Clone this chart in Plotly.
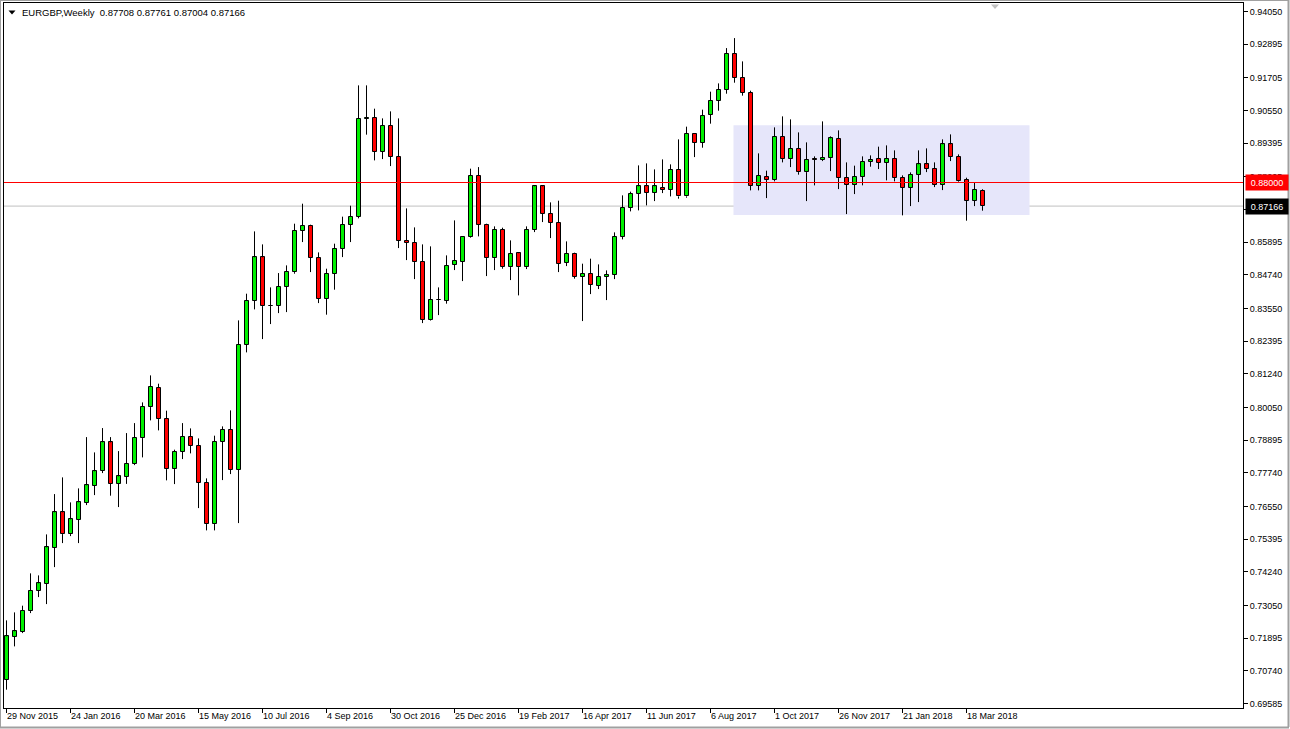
import plotly.graph_objects as go

# ---------------- data (EURGBP weekly) ----------------
week_labels = ["29 Nov 2015", "24 Jan 2016", "20 Mar 2016", "15 May 2016", "10 Jul 2016",
               "4 Sep 2016", "30 Oct 2016", "25 Dec 2016", "19 Feb 2017", "16 Apr 2017",
               "11 Jun 2017", "6 Aug 2017", "1 Oct 2017", "26 Nov 2017", "21 Jan 2018",
               "18 Mar 2018"]
label_step = 8  # one date label every 8 weekly bars

opens = [0.70422, 0.71943, 0.72105, 0.72848, 0.73569, 0.73816, 0.75089, 0.76337, 0.75570, 0.76079,
         0.76680, 0.77281, 0.77811, 0.78812, 0.77352, 0.77599, 0.78045, 0.78964, 0.80060, 0.80746,
         0.79650, 0.77868, 0.78483, 0.79014, 0.78695, 0.77387, 0.75924, 0.78837, 0.79261, 0.77847,
         0.82266, 0.83822, 0.85353, 0.83631, 0.83631, 0.84317, 0.84833, 0.86297, 0.86473, 0.85342,
         0.83893, 0.84776, 0.85660, 0.86509, 0.86792, 0.90256, 0.90292, 0.89090, 0.90009, 0.88913,
         0.85943, 0.85872, 0.85201, 0.83150, 0.83857, 0.83822, 0.85095, 0.85201, 0.86085, 0.88241,
         0.86509, 0.85328, 0.86332, 0.85010, 0.85500, 0.85010, 0.86332, 0.87863, 0.86898, 0.86580,
         0.85165, 0.85484, 0.84670, 0.84776, 0.84352, 0.84670, 0.84741, 0.86085, 0.87110, 0.87605,
         0.87863, 0.87640, 0.87817, 0.87746, 0.88453, 0.87509, 0.89726, 0.89408, 0.90398, 0.90893,
         0.91282, 0.92554, 0.91706, 0.91176, 0.87888, 0.88206, 0.88086, 0.89620, 0.88828, 0.89196,
         0.88368, 0.88807, 0.88793, 0.88863, 0.89549, 0.88170, 0.87923, 0.88206, 0.88736, 0.88842,
         0.88701, 0.88842, 0.88170, 0.87817, 0.88277, 0.88641, 0.88489, 0.87923, 0.89348, 0.88913,
         0.88100, 0.87357, 0.87708]
highs = [0.72519, 0.72802, 0.73039, 0.74181, 0.74110, 0.75559, 0.76984, 0.77575, 0.76691, 0.77186,
         0.78999, 0.78458, 0.79318, 0.78999, 0.78504, 0.79141, 0.79494, 0.80226, 0.81181, 0.80887,
         0.79933, 0.78554, 0.79494, 0.79307, 0.78953, 0.77539, 0.79049, 0.79378, 0.79943, 0.83125,
         0.84069, 0.86272, 0.85812, 0.84292, 0.84798, 0.85070, 0.86544, 0.87251, 0.86509, 0.85529,
         0.84953, 0.85837, 0.86792, 0.87180, 0.91434, 0.91434, 0.90610, 0.90267, 0.90515, 0.90267,
         0.87085, 0.86413, 0.85812, 0.85742, 0.84292, 0.85423, 0.86661, 0.86085, 0.88489, 0.88545,
         0.86544, 0.86449, 0.86403, 0.85954, 0.85519, 0.86449, 0.87898, 0.87898, 0.87297, 0.87357,
         0.85918, 0.85519, 0.85130, 0.85307, 0.85105, 0.84893, 0.86237, 0.87545, 0.87676, 0.88605,
         0.88676, 0.88464, 0.88817, 0.88641, 0.89525, 0.89974, 0.89726, 0.90575, 0.91211, 0.91504,
         0.92752, 0.93106, 0.92282, 0.91246, 0.89030, 0.88418, 0.89949, 0.90338, 0.90232, 0.89772,
         0.89419, 0.88924, 0.90161, 0.89631, 0.89843, 0.88711, 0.88595, 0.88924, 0.88959, 0.89267,
         0.89312, 0.89136, 0.88252, 0.88358, 0.89136, 0.89206, 0.88711, 0.89525, 0.89701, 0.88994,
         0.88170, 0.88015, 0.87761]
lows = [0.70069, 0.71600, 0.72070, 0.72777, 0.73343, 0.73095, 0.74403, 0.75252, 0.75499, 0.75252,
        0.76595, 0.76949, 0.77727, 0.76928, 0.76525, 0.77345, 0.78009, 0.78282, 0.79590, 0.79236,
        0.77469, 0.77338, 0.78222, 0.78423, 0.76489, 0.75701, 0.75701, 0.77479, 0.77691, 0.75959,
        0.81994, 0.83514, 0.82464, 0.82995, 0.83383, 0.83419, 0.84776, 0.85894, 0.84833, 0.83737,
        0.83327, 0.84211, 0.85363, 0.85894, 0.86732, 0.89691, 0.88782, 0.88828, 0.88581, 0.85682,
        0.85257, 0.84585, 0.83030, 0.83120, 0.83313, 0.83716, 0.84904, 0.84515, 0.86050, 0.86095,
        0.84692, 0.84904, 0.84953, 0.84550, 0.84009, 0.84939, 0.86247, 0.86601, 0.86035, 0.84833,
        0.85045, 0.84600, 0.83101, 0.84055, 0.84232, 0.83843, 0.84585, 0.85989, 0.86979, 0.87014,
        0.87191, 0.87343, 0.87626, 0.87509, 0.87428, 0.87463, 0.88899, 0.89231, 0.90080, 0.90539,
        0.91140, 0.91529, 0.91070, 0.87722, 0.87722, 0.87449, 0.88040, 0.88711, 0.88545, 0.88277,
        0.87343, 0.87898, 0.88757, 0.88404, 0.87767, 0.86884, 0.87591, 0.87900, 0.88559, 0.88475,
        0.88075, 0.88040, 0.86838, 0.87166, 0.87308, 0.88368, 0.87838, 0.87732, 0.88757, 0.88029,
        0.86650, 0.87166, 0.87004]
closes = [0.71953, 0.72130, 0.72862, 0.73569, 0.73827, 0.75100, 0.76337, 0.75570, 0.76090, 0.76691,
          0.77292, 0.77787, 0.78812, 0.77352, 0.77610, 0.78062, 0.78978, 0.80074, 0.80781, 0.79636,
          0.77868, 0.78483, 0.79014, 0.78695, 0.77387, 0.75924, 0.78837, 0.79261, 0.77847, 0.82266,
          0.83822, 0.85353, 0.83631, 0.83645, 0.84317, 0.84847, 0.86297, 0.86473, 0.85342, 0.83893,
          0.84776, 0.85660, 0.86509, 0.86792, 0.90256, 0.90285, 0.89090, 0.90009, 0.88913, 0.85943,
          0.85872, 0.85187, 0.83150, 0.83857, 0.83843, 0.85059, 0.85236, 0.86085, 0.88241, 0.86509,
          0.85328, 0.86332, 0.85010, 0.85484, 0.85010, 0.86332, 0.87863, 0.86898, 0.86580, 0.85130,
          0.85484, 0.84670, 0.84776, 0.84387, 0.84670, 0.84741, 0.86085, 0.87110, 0.87605, 0.87863,
          0.87640, 0.87863, 0.87746, 0.88453, 0.87509, 0.89726, 0.89408, 0.90363, 0.90893, 0.91282,
          0.92554, 0.91706, 0.91176, 0.87888, 0.88241, 0.88086, 0.89620, 0.88828, 0.89196, 0.88368,
          0.88807, 0.88800, 0.88878, 0.89560, 0.88156, 0.87923, 0.88206, 0.88736, 0.88807, 0.88701,
          0.88842, 0.88170, 0.87817, 0.88277, 0.88641, 0.88489, 0.87923, 0.89348, 0.88913, 0.88064,
          0.87357, 0.87746, 0.87166]

price_ticks = [0.94050, 0.92895, 0.91705, 0.90550, 0.89395, 0.88205, 0.87050, 0.85895, 0.84740,
               0.83550, 0.82395, 0.81240, 0.80050, 0.78895, 0.77740, 0.76550, 0.75395, 0.74240,
               0.73050, 0.71895, 0.70740, 0.69585]

level_price = 0.88000            # red horizontal line
zone_start, zone_end = 90.875, 127.875   # rectangle, in bar units
zone_low, zone_high = 0.86848, 0.90020   # rectangle, in price

symbol_text = "EURGBP,Weekly"

# ---------------- styling / geometry ----------------
FIG_W, FIG_H = 1290, 729
PL, PR, PT, PB = 4, 1243, 3, 708
W, H = PR - PL, PB - PT
BAR_PX = 8.0
X0 = -0.3125
X1 = X0 + W / BAR_PX
PX_PER_PRICE = 2828.5
Y1 = 0.94050 + (11.38 - PT) / PX_PER_PRICE
Y0 = Y1 - H / PX_PER_PRICE

BULL = "#00F000"
BEAR = "#FF0000"
FONT = "Liberation Sans"


def px2x(px):
    return (px - PL) / W


def py2y(py):
    return (PB - py) / H


n = len(opens)
idx = list(range(n))
body_top = [max(o, c) for o, c in zip(opens, closes)]
body_bot = [min(o, c) for o, c in zip(opens, closes)]
body_h = [max(t - b, 0.0002) for t, b in zip(body_top, body_bot)]
colors = [BULL if c >= o else BEAR for o, c in zip(opens, closes)]

# wicks: upper (body top -> high) and lower (low -> body bottom), so bodies stay clean
wick_x, wick_y = [], []
for i in idx:
    if highs[i] > body_top[i]:
        wick_x += [i, i, None]
        wick_y += [body_top[i], highs[i], None]
    if lows[i] < body_bot[i]:
        wick_x += [i, i, None]
        wick_y += [lows[i], body_bot[i], None]

fig = go.Figure()
fig.add_trace(go.Bar(x=idx, y=body_h, base=body_bot, width=0.5,
                     marker=dict(color=colors, line=dict(color="black", width=1)),
                     showlegend=False, hoverinfo="skip"))
fig.add_trace(go.Scatter(x=wick_x, y=wick_y, mode="lines",
                         line=dict(color="black", width=1), hoverinfo="skip",
                         showlegend=False))

label_idx = [k * label_step for k in range(len(week_labels))]

shapes = [
    # consolidation rectangle
    dict(type="rect", xref="x", yref="y", x0=zone_start, x1=zone_end, y0=zone_low, y1=zone_high,
         fillcolor="#E6E6FA", line=dict(width=0), layer="below"),
    # bid line
    dict(type="line", xref="paper", yref="y", x0=0, x1=1, y0=closes[-1], y1=closes[-1],
         line=dict(color="#C0C0C0", width=1), layer="below"),
    # horizontal level
    dict(type="line", xref="paper", yref="y", x0=0, x1=1, y0=level_price, y1=level_price,
         line=dict(color="#FF0000", width=1), layer="above"),
    # title triangle
    dict(type="path", xref="paper", yref="paper",
         path=f"M {px2x(8.5)},{py2y(10.5)} L {px2x(15.5)},{py2y(10.5)} L {px2x(12)},{py2y(14.5)} Z",
         fillcolor="black", line=dict(width=0)),
    # chart shift marker
    dict(type="path", xref="paper", yref="paper",
         path=f"M {px2x(991)},{py2y(4.5)} L {px2x(999)},{py2y(4.5)} L {px2x(995)},{py2y(9)} Z",
         fillcolor="#C0C0C0", line=dict(width=0)),
    # window frame
    dict(type="line", xref="paper", yref="paper", x0=px2x(1288.5), x1=px2x(1288.5),
         y0=py2y(0), y1=py2y(727), line=dict(color="#A0A0A0", width=2)),
    dict(type="line", xref="paper", yref="paper", x0=px2x(0), x1=px2x(1289),
         y0=py2y(727.5), y1=py2y(727.5), line=dict(color="#A0A0A0", width=2)),
    dict(type="line", xref="paper", yref="paper", x0=px2x(0), x1=px2x(1289),
         y0=py2y(0.5), y1=py2y(0.5), line=dict(color="#A0A0A0", width=1)),
    dict(type="line", xref="paper", yref="paper", x0=px2x(0.5), x1=px2x(0.5),
         y0=py2y(0), y1=py2y(727), line=dict(color="#A0A0A0", width=1)),
]

annotations = []
for xi, txt in zip(label_idx, week_labels):
    annotations.append(dict(x=xi, y=0, xref="x", yref="paper", text=txt, showarrow=False,
                            xanchor="left", yanchor="top", xshift=-2, yshift=-1,
                            font=dict(family=FONT, size=9, color="black")))

title_vals = f"{opens[-1]:.5f} {highs[-1]:.5f} {lows[-1]:.5f} {closes[-1]:.5f}"
annotations.append(dict(x=px2x(19.5), y=py2y(12.5), xref="paper", yref="paper",
                        text=f"{symbol_text}  {title_vals}", showarrow=False,
                        xanchor="left", yanchor="middle",
                        font=dict(family=FONT, size=9.5, color="black")))

for price, bg in [(level_price, "#FF0000"), (closes[-1], "#000000")]:
    annotations.append(dict(x=1, y=price, xref="paper", yref="y", text=f"{price:.5f}",
                            showarrow=False, xanchor="left", yanchor="middle", xshift=2,
                            width=40, height=13, align="center", bgcolor=bg, borderpad=1,
                            font=dict(family=FONT, size=9, color="white")))

fig.update_layout(
    width=FIG_W, height=FIG_H, autosize=False,
    margin=dict(l=PL, r=FIG_W - PR, t=PT, b=FIG_H - PB, pad=0),
    paper_bgcolor="white", plot_bgcolor="white",
    bargap=0, showlegend=False,
    shapes=shapes, annotations=annotations,
    xaxis=dict(range=[X0, X1], showgrid=False, zeroline=False, showline=True, linecolor="black",
               linewidth=1, mirror=True, tickvals=label_idx, ticks="outside", ticklen=4,
               tickcolor="black", showticklabels=False, fixedrange=True),
    yaxis=dict(range=[Y0, Y1], side="right", showgrid=False, zeroline=False, showline=True,
               linecolor="black", linewidth=1, mirror=True, tickvals=price_ticks,
               ticktext=[f"{v:.5f}" for v in price_ticks], ticks="outside", ticklen=4,
               tickcolor="black", tickfont=dict(family=FONT, size=9, color="black"),
               fixedrange=True),
)

fig.write_html("out.html", config={"displayModeBar": False},
               post_script="document.body.style.margin='0';document.body.style.overflow='hidden';")
